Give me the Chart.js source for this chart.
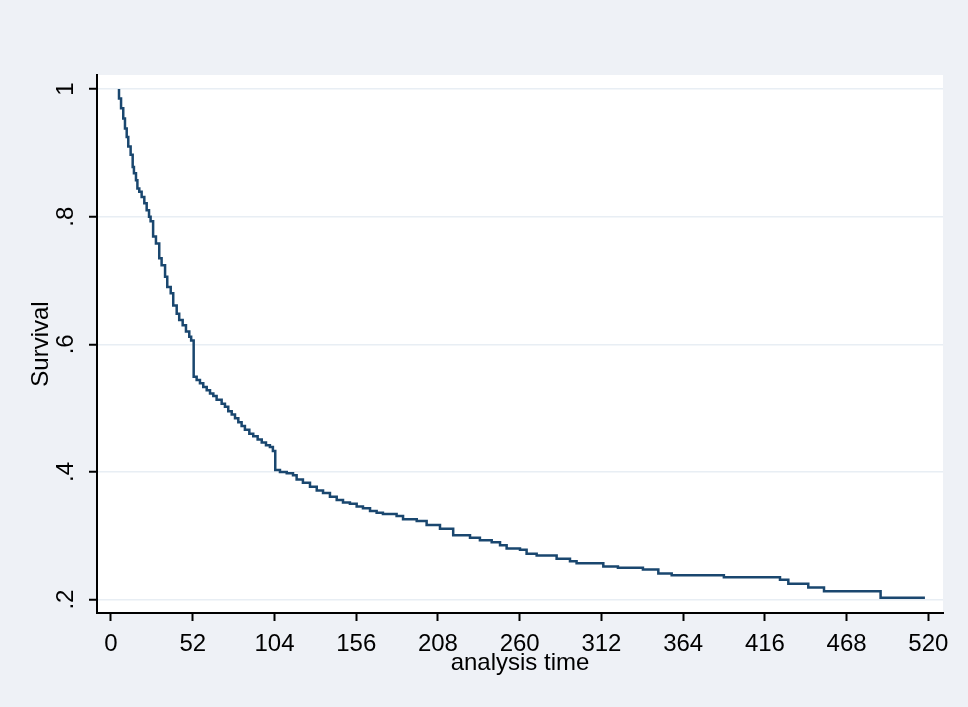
<!DOCTYPE html>
<html>
<head>
<meta charset="utf-8">
<script src="https://cdn.jsdelivr.net/npm/chart.js@4.4.1/dist/chart.umd.min.js"></script>
<style>
  html, body { margin: 0; padding: 0; background: #eef1f6; }
  canvas { display: block; }
</style>
</head>
<body>
<canvas id="survivalChart" width="968" height="707"></canvas>
<script>
// Kaplan-Meier estimate (time of each step, survival after it)
const analysisTime = [
  5.1, 5.1, 6.4, 7.8, 8.9, 10.0, 11.0, 12.5, 13.8, 14.6, 15.9, 16.8, 18.0, 19.5, 21.2, 22.7, 24.2, 25.2,
  26.8, 28.6, 30.7, 32.2, 34.4, 35.8, 38.0, 39.6, 41.8, 43.4, 45.6, 47.7, 49.8, 51.0,
  52.6, 54.5, 56.6, 58.7, 60.9, 63.0, 65.1, 67.2, 70.4, 72.5, 74.6, 76.8, 78.9, 81.0, 83.1, 85.2,
  88.0, 90.5, 93.3, 95.9, 98.6, 101.1, 103.0,
  104.5, 107.5, 111.8, 115.8, 118.1, 122.1, 126.6, 130.9, 134.9, 139.3, 143.6, 147.6, 152.0, 156.3,
  160.3, 164.8, 169.0, 173.0, 181.7, 185.8, 194.5, 200.8, 209.3, 217.7, 228.4, 234.7, 242.2, 247.5,
  251.7, 260.2, 264.4, 270.8, 283.5, 292.0, 296.2, 313.2, 322.5, 338.4, 348.2, 356.7, 389.9, 425.6,
  430.9, 443.6, 453.6, 489.6, 517.8
];
const survival = [
  1.0, 0.985, 0.970, 0.954, 0.938, 0.925, 0.910, 0.897, 0.878, 0.868, 0.857, 0.844, 0.839, 0.831, 0.821, 0.810, 0.800, 0.793,
  0.769, 0.758, 0.735, 0.724, 0.706, 0.690, 0.680, 0.661, 0.648, 0.638, 0.630, 0.620, 0.612, 0.606,
  0.549, 0.544, 0.539, 0.533, 0.528, 0.523, 0.519, 0.513, 0.507, 0.502, 0.495, 0.490, 0.484, 0.478, 0.472, 0.466,
  0.460, 0.456, 0.451, 0.446, 0.442, 0.439, 0.433,
  0.403, 0.400, 0.398, 0.395, 0.388, 0.383, 0.377, 0.371, 0.367, 0.361, 0.356, 0.352, 0.350, 0.346,
  0.343, 0.339, 0.336, 0.334, 0.331, 0.326, 0.323, 0.317, 0.311, 0.301, 0.297, 0.293, 0.290, 0.285,
  0.280, 0.278, 0.272, 0.269, 0.264, 0.260, 0.257, 0.252, 0.250, 0.247, 0.241, 0.238, 0.235, 0.231,
  0.225, 0.219, 0.213, 0.203, 0.203
];
const xTicks = [0, 52, 104, 156, 208, 260, 312, 364, 416, 468, 520];
const yTicks = [0.2, 0.4, 0.6, 0.8, 1];

const fontFamily = '"Liberation Sans", Arial, sans-serif';
Chart.defaults.font.family = fontFamily;
Chart.defaults.font.size = 24;
Chart.defaults.color = '#000';

const plotBackground = {
  id: 'plotBackground',
  beforeDraw: (chart) => {
    const {ctx, chartArea} = chart;
    ctx.save();
    ctx.fillStyle = '#eef1f6';
    ctx.fillRect(0, 0, chart.width, chart.height);
    ctx.fillStyle = '#ffffff';
    ctx.fillRect(chartArea.left, chartArea.top, chartArea.right - chartArea.left, chartArea.bottom - chartArea.top);
    ctx.restore();
  }
};

const points = analysisTime.map((t, i) => ({x: t, y: survival[i]}));

const config = {
  type: 'line',
  data: {
    datasets: [{
      data: points,
      stepped: 'before',
      borderColor: '#1a476f',
      borderWidth: 2.5,
      pointRadius: 0,
      fill: false,
    }]
  },
  options: {
    responsive: false,
    animation: false,
    layout: { padding: { left: 0, top: 75, right: 25, bottom: 0 } },
    plugins: { legend: { display: false }, tooltip: { enabled: false } },
    scales: {
      x: {
        type: 'linear',
        min: -8.9,
        max: 529.3,
        afterBuildTicks: (scale) => { scale.ticks = xTicks.map(v => ({value: v})); },
        afterFit: (scale) => { scale.height = 94; },
        ticks: { padding: 9, maxRotation: 0, autoSkip: false, callback: (v) => String(v) },
        grid: { drawOnChartArea: false, tickLength: 8, tickWidth: 2, tickColor: '#000' },
        border: { color: '#000', width: 2 },
        title: { display: true, text: 'analysis time', padding: { top: 0, bottom: 29 } },
      },
      y: {
        type: 'linear',
        min: 0.179,
        max: 1.022,
        afterBuildTicks: (scale) => { scale.ticks = yTicks.map(v => ({value: v})); },
        afterFit: (scale) => { scale.width = 97; },
        ticks: {
          padding: 13,
          minRotation: 90,
          maxRotation: 90,
          crossAlign: 'center',
          autoSkip: false,
          callback: (v) => String(v).replace(/^0/, ''),
        },
        grid: { color: '#e8eef4', lineWidth: 1.5, tickLength: 8, tickWidth: 2, tickColor: '#000' },
        border: { color: '#000', width: 2 },
        title: { display: true, text: 'Survival', padding: { top: 27, bottom: 0 } },
      }
    }
  },
  plugins: [plotBackground]
};

new Chart(document.getElementById('survivalChart'), config);
</script>
</body>
</html>
